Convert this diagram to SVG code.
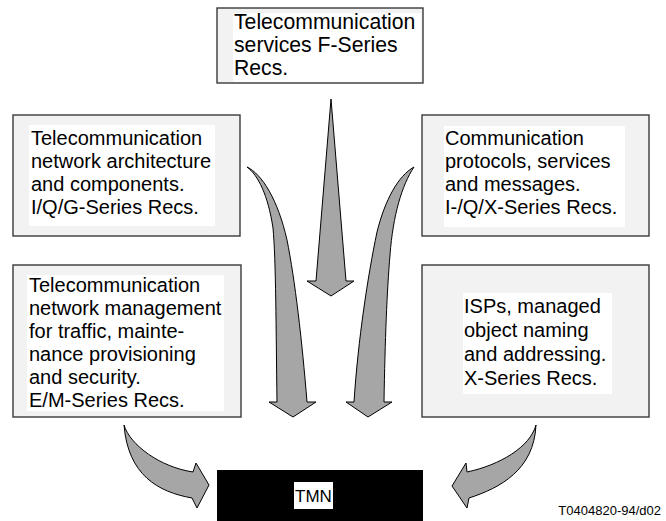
<svg xmlns="http://www.w3.org/2000/svg" width="666" height="521" viewBox="0 0 666 521">
<defs>
<style>
.box{fill:#f2f2f2;stroke:#3a3a3a;stroke-width:1.4}
.bg{fill:#ffffff}
.t{font-family:"Liberation Sans",Arial,sans-serif;font-size:20px;fill:#000}
.tt{font-family:"Liberation Sans",Arial,sans-serif;font-size:21.2px;fill:#000}
.arr{fill:#a6a6a6;stroke:#000;stroke-width:1;stroke-linejoin:miter}
</style>
</defs>
<rect width="666" height="521" fill="#ffffff"/>
<g id="connectors">
<path class="arr" d="M331,99 L346,281 L354,281 L331,296 L307,281 L316,281 Z"/>
<path class="arr" d="M247,167 C262,174 278,200 287,240 C295,280 302,340 307,402 L316,402 L293,417 L269,402 L277,402 C276,330 276,260 273,228 C268,195 258,175 247,167 Z"/>
<path class="arr" d="M414,167 C398,176 385,200 377,232 C368,275 358,340 354,402 L346,402 L368,417 L392,402 L384,402 C385,340 387,290 390,255 C393,215 402,185 414,167 Z"/>
<path class="arr" d="M124,425 C130,445 160,467 193,472 L196,463 L209,485 L197,508 L192,498 C158,492 128,475 124,425 Z"/>
<path class="arr" d="M536,425 C530,447 500,465 467,472 L466,463 L452,486 L467,508 L469,498 C500,488 534,470 536,425 Z"/>
</g>
<g id="node-top">
<rect class="box" x="217" y="8" width="206" height="75"/>
<rect class="bg" x="233" y="13" width="188" height="69"/>
<text class="tt" x="234" y="29">Telecommunication</text>
<text class="tt" x="234" y="52">services F-Series</text>
<text class="tt" x="234" y="75">Recs.</text>
</g>
<g id="node-left1">
<rect class="box" x="13" y="115" width="227" height="121"/>
<rect class="bg" x="29" y="125" width="186" height="101"/>
<text class="t" x="31" y="145">Telecommunication</text>
<text class="t" x="31" y="168">network architecture</text>
<text class="t" x="31" y="191">and components.</text>
<text class="t" x="31" y="214">I/Q/G-Series Recs.</text>
</g>
<g id="node-right1">
<rect class="box" x="422" y="115" width="227" height="121"/>
<rect class="bg" x="444" y="126" width="181" height="101"/>
<text class="t" x="445" y="145">Communication</text>
<text class="t" x="445" y="168">protocols, services</text>
<text class="t" x="445" y="191">and messages.</text>
<text class="t" x="445" y="214">I-/Q/X-Series Recs.</text>
</g>
<g id="node-left2">
<rect class="box" x="13" y="265" width="228" height="152"/>
<rect class="bg" x="27" y="275" width="197" height="136"/>
<text class="t" x="29" y="292">Telecommunication</text>
<text class="t" x="29" y="315">network management</text>
<text class="t" x="29" y="338">for traffic, mainte-</text>
<text class="t" x="29" y="361">nance provisioning</text>
<text class="t" x="29" y="384">and security.</text>
<text class="t" x="29" y="407">E/M-Series Recs.</text>
</g>
<g id="node-right2">
<rect class="box" x="422" y="265" width="227" height="152"/>
<rect class="bg" x="463" y="293" width="149" height="101"/>
<text class="t" x="464" y="313">ISPs, managed</text>
<text class="t" x="464" y="337">object naming</text>
<text class="t" x="464" y="361">and addressing.</text>
<text class="t" x="464" y="385">X-Series Recs.</text>
</g>
<g id="node-tmn">
<rect x="217" y="470" width="206" height="60" fill="#000"/>
<rect class="bg" x="294" y="482" width="39" height="27"/>
<text x="313.5" y="502" text-anchor="middle" font-family="'Liberation Sans',Arial,sans-serif" font-size="17" fill="#000">TMN</text>
</g>
<g id="label">
<text x="661" y="515" text-anchor="end" font-family="'Liberation Sans',Arial,sans-serif" font-size="13" fill="#000">T0404820-94/d02</text>
</g>
</svg>
